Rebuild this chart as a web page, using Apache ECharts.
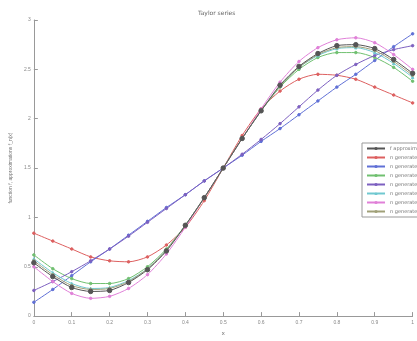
<!DOCTYPE html>
<html>
<head>
<meta charset="utf-8">
<script src="https://cdn.jsdelivr.net/npm/echarts@6/dist/echarts.min.js"></script>
<style>
  html, body { margin: 0; padding: 0; background: #fff; }
  #chart { width: 417px; height: 341px; }
</style>
</head>
<body>
<div id="chart"></div>
<script>
// x positions of the sample points
const xValues = [0, 0.05, 0.1, 0.15, 0.2, 0.25, 0.3, 0.35, 0.4, 0.45, 0.5,
  0.55, 0.6, 0.65, 0.7, 0.75, 0.8, 0.85, 0.9, 0.95, 1.0]

const seriesNames = ['f approximation', 'n generated 1', 'n generated 2', 'n generated 3',
  'n generated 4', 'n generated 5', 'n generated 6', 'n generated 7']

const exactVals = [0.54, 0.40, 0.29, 0.25, 0.26, 0.34, 0.47, 0.66, 0.92, 1.2, 1.5,
  1.8, 2.08, 2.34, 2.53, 2.66, 2.74, 2.75, 2.71, 2.6, 2.46]
const redVals = [0.84, 0.76, 0.68, 0.6, 0.56, 0.55, 0.6, 0.72, 0.9, 1.17, 1.5,
  1.83, 2.1, 2.28, 2.4, 2.45, 2.44, 2.4, 2.32, 2.24, 2.16]
const blueVals = [0.14, 0.27, 0.41, 0.55, 0.68, 0.82, 0.96, 1.1, 1.23, 1.37, 1.5,
  1.63, 1.77, 1.9, 2.04, 2.18, 2.32, 2.45, 2.59, 2.73, 2.86]
const greenVals = [0.62, 0.48, 0.38, 0.33, 0.33, 0.38, 0.5, 0.68, 0.92, 1.2, 1.5,
  1.8, 2.08, 2.32, 2.5, 2.62, 2.67, 2.67, 2.62, 2.52, 2.38]
const purpleVals = [0.26, 0.35, 0.45, 0.56, 0.68, 0.81, 0.95, 1.09, 1.23, 1.37, 1.5,
  1.64, 1.79, 1.95, 2.12, 2.29, 2.44, 2.55, 2.64, 2.7, 2.74]
const cyanVals = [0.58, 0.44, 0.33, 0.28, 0.29, 0.36, 0.48, 0.67, 0.92, 1.2, 1.5,
  1.8, 2.08, 2.33, 2.52, 2.64, 2.71, 2.72, 2.67, 2.56, 2.42]
const pinkVals = [0.5, 0.35, 0.23, 0.18, 0.2, 0.28, 0.42, 0.63, 0.9, 1.2, 1.5,
  1.8, 2.1, 2.37, 2.58, 2.72, 2.8, 2.82, 2.77, 2.65, 2.5]
const grayVals = [0.56, 0.42, 0.31, 0.27, 0.28, 0.35, 0.48, 0.67, 0.92, 1.2, 1.5,
  1.8, 2.08, 2.33, 2.52, 2.65, 2.72, 2.73, 2.69, 2.58, 2.44]

const allVals = [exactVals, redVals, blueVals, greenVals, purpleVals, cyanVals, pinkVals, grayVals]
const colors = ['#555555', '#dd6060', '#6070d6', '#70c070', '#7d60c0', '#70c8d0', '#e080d8', '#a0a078']
const symbols = ['circle', 'circle', 'circle', 'circle', 'circle', 'triangle', 'circle', 'circle']

const chart = echarts.init(document.getElementById('chart'))

const series = allVals.map((vals, i) => ({
  name: seriesNames[i],
  type: 'line',
  data: xValues.map((x, j) => [x, vals[j]]),
  smooth: 0.25,
  symbol: symbols[i],
  symbolSize: i === 0 ? 4.5 : 2.5,
  lineStyle: { width: 1, color: colors[i] },
  itemStyle: { color: colors[i], borderColor: colors[i] },
  z: i === 0 ? 10 : 2
}))

const option = {
  animation: false,
  backgroundColor: '#fff',
  title: {
    text: 'Taylor series',
    left: 193,
    top: 5,
    textStyle: { fontSize: 6, fontWeight: 'normal', color: '#666', fontFamily: 'DejaVu Sans' }
  },
  legend: {
    orient: 'vertical',
    left: 362,
    top: 143,
    data: seriesNames,
    itemWidth: 18,
    itemHeight: 4,
    itemGap: 4,
    padding: [3, 4],
    backgroundColor: '#fff',
    borderColor: '#999',
    borderWidth: 1,
    textStyle: { fontSize: 5, color: '#777', fontFamily: 'DejaVu Sans' }
  },
  grid: { left: 23, right: -6, top: 20, bottom: 22, containLabel: false },
  xAxis: {
    type: 'value',
    min: 0,
    max: 1,
    interval: 0.1,
    name: 'x',
    nameLocation: 'middle',
    nameGap: 13,
    nameTextStyle: { fontSize: 6, color: '#666' },
    axisLine: { lineStyle: { color: '#999' } },
    axisTick: { inside: true, length: 4, lineStyle: { color: '#999' } },
    axisLabel: { fontSize: 5, color: '#888', margin: 4 },
    splitLine: { show: false }
  },
  yAxis: {
    type: 'value',
    min: 0,
    max: 3,
    interval: 0.5,
    name: 'function f, approximations f_n(x)',
    nameLocation: 'middle',
    nameRotate: 90,
    nameGap: 11,
    nameTextStyle: { fontSize: 5, color: '#777' },
    axisLine: { show: true, lineStyle: { color: '#999' } },
    axisTick: { show: true, inside: true, length: 4, lineStyle: { color: '#999' } },
    axisLabel: { fontSize: 5, color: '#888', margin: 3 },
    splitLine: { show: false }
  },
  series: series
}

chart.setOption(option)
</script>
</body>
</html>
